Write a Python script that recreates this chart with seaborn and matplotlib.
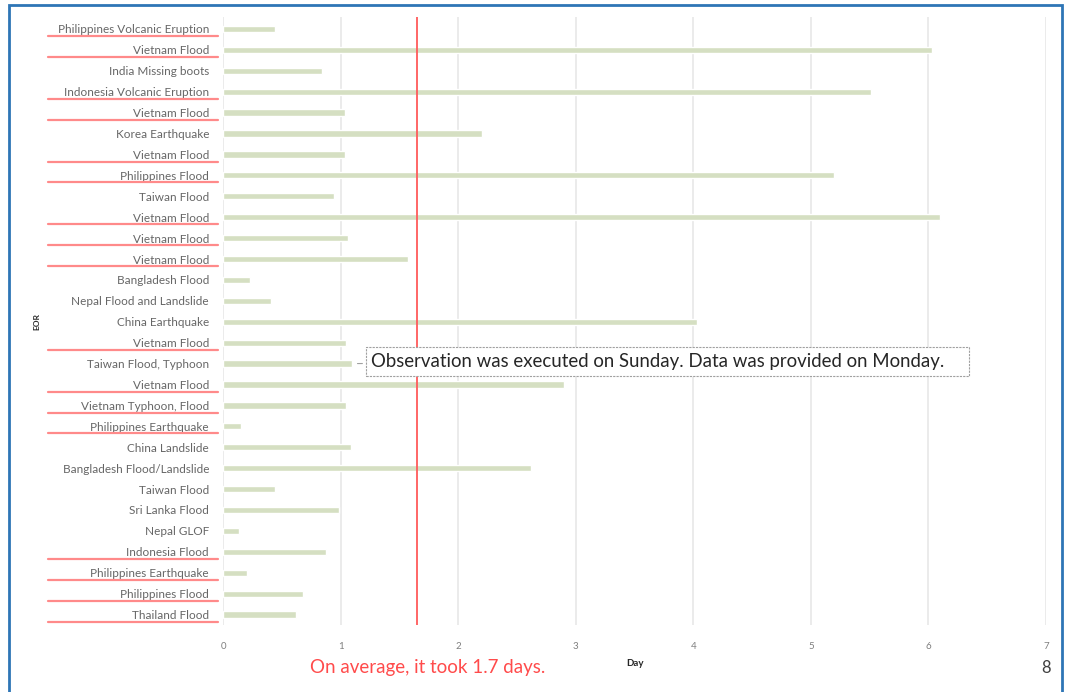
import matplotlib
matplotlib.use("Agg")
import matplotlib.pyplot as plt
import matplotlib.transforms as mtransforms
from matplotlib.patches import Rectangle
import pandas as pd
import seaborn as sns

# --- data ---
events = [
    "Philippines Volcanic Eruption", "Vietnam Flood", "India Missing boots",
    "Indonesia Volcanic Eruption", "Vietnam Flood", "Korea Earthquake",
    "Vietnam Flood", "Philippines Flood", "Taiwan Flood", "Vietnam Flood",
    "Vietnam Flood", "Vietnam Flood", "Bangladesh Flood",
    "Nepal Flood and Landslide", "China Earthquake", "Vietnam Flood",
    "Taiwan Flood, Typhoon", "Vietnam Flood", "Vietnam Typhoon, Flood",
    "Philippines Earthquake", "China Landslide", "Bangladesh Flood/Landslide",
    "Taiwan Flood", "Sri Lanka Flood", "Nepal GLOF", "Indonesia Flood",
    "Philippines Earthquake", "Philippines Flood", "Thailand Flood",
]
days = [
    0.44, 6.03, 0.84, 5.51, 1.04, 2.20, 1.04, 5.20, 0.94, 6.10,
    1.06, 1.57, 0.23, 0.41, 4.03, 1.05, 1.10, 2.90, 1.05, 0.15,
    1.09, 2.62, 0.44, 0.99, 0.14, 0.88, 0.20, 0.68, 0.62,
]
# rows whose label is underlined in red
underlined = [0, 1, 3, 4, 6, 7, 9, 10, 11, 15, 17, 18, 19, 25, 26, 27, 28]
average_days = 1.65
x_ticks = [0, 1, 2, 3, 4, 5, 6, 7]

df = pd.DataFrame({"row": range(len(events)), "days": days})

sns.set_style("white")
plt.rcParams["font.family"] = ["Lato", "DejaVu Sans"]

fig = plt.figure(figsize=(10.65, 6.92), dpi=100)
ax = fig.add_axes([0.2094, 0.0968, 0.7728, 0.8786])

sns.barplot(data=df, x="days", y="row", orient="h", color="#d7e4bd",
            width=0.3, ax=ax, zorder=3)

ax.set_xlim(0, 7)
ax.set_ylim(len(events) - 0.5, -0.57)
ax.set_xticks(x_ticks)
ax.set_xticklabels([str(t) for t in x_ticks], fontsize=7, color="#7f7f7f")
ax.set_yticks(range(len(events)))
ax.set_yticklabels(events, fontsize=8.5, color="#666666")
ax.tick_params(axis="both", length=0, pad=10)
ax.tick_params(axis="x", pad=12)
ax.grid(axis="x", color="#e6e6e6", linewidth=1.1, zorder=0)
for s in ax.spines.values():
    s.set_visible(False)

ax.set_xlabel("Day", fontsize=7, fontweight="bold", color="#262626", labelpad=6)
ax.set_ylabel("EOR", fontsize=6, fontweight="bold", color="#262626")
ax.yaxis.set_label_coords(-0.222, 0.5)

# average line
ax.axvline(average_days, color="#ff5b5b", linewidth=1.3, zorder=4)
ax.text(average_days + 0.09, -0.056, "On average, it took 1.7 days.",
        transform=mtransforms.blended_transform_factory(ax.transData, ax.transAxes),
        color="#ff4b4b", fontsize=13.5, ha="center", va="top")

# red underlines beneath selected labels
trans = mtransforms.blended_transform_factory(fig.transFigure, ax.transData)
for r in underlined:
    ax.plot([48 / 1065, 218 / 1065], [r + 0.34, r + 0.34], transform=trans,
            color="#ff8a8a", linewidth=1.6, clip_on=False, zorder=5)

# callout
ax.annotate("Observation was executed on Sunday. Data was provided on Monday.    ",
            xy=(1.12, 16), xytext=(1.26, 15.9), fontsize=13.4, color="#262626",
            va="center", ha="left", zorder=6,
            bbox=dict(boxstyle="square,pad=0.3", fc="white", ec="#a0a0a0",
                      ls=(0, (2, 1)), lw=0.8),
            arrowprops=dict(arrowstyle="-", color="#a0a0a0", lw=0.8))

# page number and slide frame
fig.text(0.982, 0.035, "8", fontsize=12, color="#404040", ha="center", va="center")
fig.patches.append(Rectangle((9 / 1065, -0.01), 1053 / 1065, 1.0028,
                             transform=fig.transFigure, fill=False,
                             ec="#2e75b6", lw=2))

fig.savefig("out.png", dpi=100)
